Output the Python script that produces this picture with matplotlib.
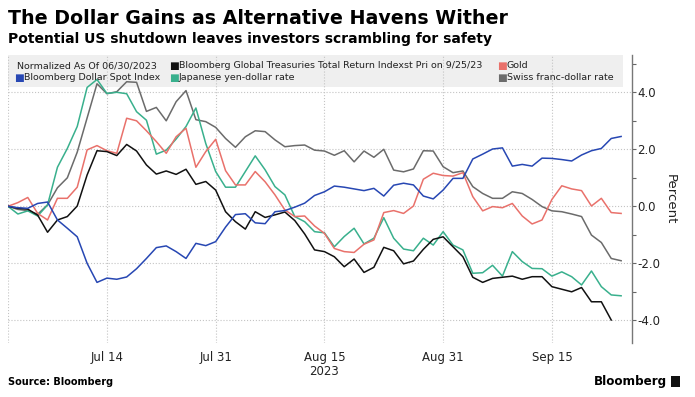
import matplotlib
matplotlib.use("Agg")
import matplotlib.pyplot as plt
from matplotlib.patches import Rectangle
from matplotlib.ticker import FixedLocator, FormatStrFormatter
import pandas as pd

# business days from 06/30/2023
dates = pd.bdate_range("2023-06-30", periods=63)

dollar = [0.0, -0.05, -0.07, 0.1, 0.15, -0.48, -0.77, -1.07, -2.0, -2.67, -2.52, -2.56, -2.48, -2.19, -1.83,
          -1.45, -1.39, -1.59, -1.83, -1.3, -1.38, -1.24, -0.73, -0.29, -0.26, -0.58, -0.61, -0.19, -0.15, -0.03,
          0.11, 0.38, 0.51, 0.71, 0.67, 0.61, 0.55, 0.63, 0.36, 0.74, 0.81, 0.75, 0.36, 0.26, 0.57, 0.98, 0.98,
          1.66, 1.83, 2.01, 2.05, 1.41, 1.47, 1.41, 1.69, 1.68, 1.64, 1.59, 1.8, 1.95, 2.03, 2.38, 2.45]
treasuries = [0.0, -0.07, -0.1, -0.31, -0.91, -0.48, -0.36, 0.01, 1.1, 1.95, 1.92, 1.78, 2.17, 1.94, 1.45,
              1.13, 1.24, 1.12, 1.3, 0.77, 0.87, 0.57, -0.19, -0.54, -0.8, -0.19, -0.39, -0.3, -0.2, -0.5,
              -0.97, -1.53, -1.59, -1.77, -2.12, -1.85, -2.32, -2.14, -1.44, -1.56, -2.02, -1.92, -1.51, -1.16,
              -1.07, -1.42, -1.77, -2.49, -2.67, -2.53, -2.49, -2.45, -2.56, -2.47, -2.47, -2.82, -2.91, -3.0,
              -2.85, -3.35, -3.35, -3.99]
gold = [0.0, 0.13, 0.31, -0.25, -0.48, 0.28, 0.28, 0.67, 1.98, 2.13, 1.95, 1.86, 3.09, 3.0, 2.65, 2.27, 1.86,
        2.44, 2.74, 1.37, 1.92, 2.35, 1.25, 0.75, 0.75, 1.22, 0.86, 0.4, -0.13, -0.36, -0.34, -0.69, -0.95,
        -1.48, -1.59, -1.62, -1.33, -1.18, -0.22, -0.15, -0.25, 0.01, 0.95, 1.16, 1.08, 1.06, 1.18, 0.34,
        -0.16, -0.01, -0.05, 0.1, -0.34, -0.62, -0.48, 0.24, 0.72, 0.61, 0.55, 0.01, 0.28, -0.22, -0.25]
yen = [0.0, -0.27, -0.16, -0.34, 0.05, 1.37, 2.03, 2.8, 4.17, 4.45, 3.96, 4.0, 3.95, 3.32, 3.02, 1.83, 1.97,
       2.36, 2.8, 3.45, 2.2, 1.22, 0.67, 0.67, 1.22, 1.77, 1.28, 0.69, 0.4, -0.36, -0.54, -0.89, -0.93, -1.42,
       -1.06, -0.77, -1.32, -1.12, -0.4, -1.12, -1.5, -1.56, -1.12, -1.36, -0.89, -1.36, -1.53, -2.35, -2.33,
       -2.07, -2.45, -1.59, -1.94, -2.18, -2.19, -2.45, -2.3, -2.47, -2.76, -2.27, -2.82, -3.11, -3.14]
swiss = [0.0, -0.11, -0.15, -0.28, 0.05, 0.65, 1.0, 1.9, 3.1, 4.3, 3.95, 4.02, 4.37, 4.35, 3.33, 3.47, 3.0,
         3.67, 4.06, 3.04, 2.97, 2.77, 2.38, 2.07, 2.44, 2.65, 2.62, 2.33, 2.09, 2.13, 2.15, 1.97, 1.94, 1.79,
         1.95, 1.56, 1.94, 1.72, 2.0, 1.27, 1.21, 1.31, 1.95, 1.94, 1.39, 1.18, 1.24, 0.69, 0.45, 0.28, 0.28,
         0.51, 0.45, 0.24, -0.01, -0.16, -0.19, -0.27, -0.36, -1.01, -1.27, -1.83, -1.91]

tick_dates = ["2023-07-14", "2023-07-31", "2023-08-15", "2023-08-31", "2023-09-15"]
tick_labels = ["Jul 14", "Jul 31", "Aug 15\n2023", "Aug 31", "Sep 15"]

c_blue = "#2747b3"
c_black = "#111111"
c_gold = "#e9716b"
c_teal = "#39b08d"
c_gray = "#6b6b6b"

W, H = 695, 397
fig = plt.figure(figsize=(W / 100, H / 100), dpi=100)
ax = fig.add_axes([8 / W, 1 - 343 / H, (632 - 8) / W, (343 - 55) / H])

x = list(range(len(dates)))
ax.plot(x, swiss, color=c_gray, lw=1.1, zorder=2)
ax.plot(x, yen, color=c_teal, lw=1.1, zorder=2)
ax.plot(x, gold, color=c_gold, lw=1.1, zorder=2)
ax.plot(x[:len(treasuries)], treasuries, color=c_black, lw=1.1, zorder=2)
ax.plot(x, dollar, color=c_blue, lw=1.1, zorder=2)

ax.set_xlim(0, 63.1)
ax.set_ylim((206.3 - 343) / 28.5, (206.3 - 55) / 28.5)

for s in ["top", "left", "bottom"]:
    ax.spines[s].set_visible(False)
ax.spines["right"].set_color("#777777")
ax.spines["right"].set_linewidth(1.0)

ax.yaxis.tick_right()
ax.yaxis.set_major_locator(FixedLocator([-4, -2, 0, 2, 4]))
ax.yaxis.set_minor_locator(FixedLocator([-3, -1, 1, 3, 5]))
ax.yaxis.set_major_formatter(FormatStrFormatter("%.1f"))
ax.tick_params(axis="y", which="both", direction="out", length=3, width=0.8, color="#666666",
               labelsize=8.5, labelcolor="#222222", pad=1)
ax.yaxis.set_label_position("right")
ax.set_ylabel("Percent", rotation=270, fontsize=9.5, color="#222222", labelpad=12)

tick_pos = [list(dates).index(pd.Timestamp(d)) for d in tick_dates]
ax.set_xticks(tick_pos)
ax.set_xticklabels(tick_labels, fontsize=8.5, color="#222222", linespacing=1.1)
ax.tick_params(axis="x", length=0, pad=6)

ax.grid(axis="y", which="major", ls=":", color="#c4c4c4", lw=0.8, zorder=1.5)
ax.grid(axis="x", which="major", ls=":", color="#c4c4c4", lw=0.8, zorder=1.5)
ax.axvline(0, ls=":", color="#c4c4c4", lw=0.8, zorder=1.5)

# legend box
box = Rectangle((8 / W, 1 - 87 / H), (623 - 8) / W, (87 - 55) / H, transform=fig.transFigure,
                facecolor="#efefef", edgecolor="none", zorder=1)
box.set_clip_on(False)
ax.add_patch(box)

lfs = 6.8
r1 = 1 - 66 / H
r2 = 1 - 77.5 / H
fig.text(17 / W, r1, "Normalized As Of 06/30/2023", fontsize=lfs, color="#222222", va="center")
legend_items = [
    (169, r1, c_black, "Bloomberg Global Treasuries Total Return Indexst Pri on 9/25/23"),
    (497, r1, c_gold, "Gold"),
    (14, r2, c_blue, "Bloomberg Dollar Spot Index"),
    (169, r2, c_teal, "Japanese yen-dollar rate"),
    (497, r2, c_gray, "Swiss franc-dollar rate"),
]
for lx, ly, col, lab in legend_items:
    fig.text(lx / W, ly, "\u25a0", fontsize=7.5, color=col, va="center")
    fig.text((lx + 10) / W, ly, lab, fontsize=lfs, color="#222222", va="center")

fig.text(8 / W, 1 - 9 / H, "The Dollar Gains as Alternative Havens Wither", fontsize=13.7,
         fontweight="bold", va="top", color="#000000")
fig.text(8 / W, 1 - 32 / H, "Potential US shutdown leaves investors scrambling for safety", fontsize=10.0,
         fontweight="bold", va="top", color="#000000")

fig.text(8 / W, 1 - 382 / H, "Source: Bloomberg", fontsize=7, fontweight="bold", va="center")
fig.text(667 / W, 1 - 381 / H, "Bloomberg", fontsize=9.5, fontweight="bold", va="center", ha="right",
         fontstretch="condensed")
icon = Rectangle((671 / W, 1 - 387 / H), 9 / W, 11 / H, transform=fig.transFigure,
                 facecolor="#111111", edgecolor="none")
fig.add_artist(icon)

fig.savefig("out.png", dpi=100)
